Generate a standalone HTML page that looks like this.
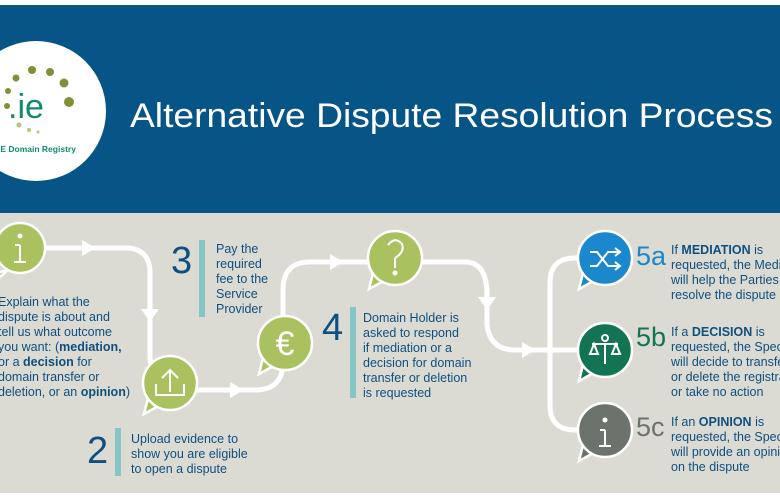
<!DOCTYPE html>
<html><head><meta charset="utf-8"><style>
html,body{margin:0;padding:0;width:780px;height:500px;overflow:hidden;background:#fff}
svg{display:block}
text{font-family:"Liberation Sans",sans-serif}
.t{font-size:12.5px;fill:#0f4f80}
.b{font-weight:bold}
.n{font-size:38px;fill:#0f4f80}
</style></head><body>
<svg width="780" height="500" viewBox="0 0 780 500">
<rect x="0" y="0" width="780" height="500" fill="#fff"/>
<rect x="0" y="5" width="780" height="208" fill="#075586"/>
<rect x="0" y="213" width="780" height="280" fill="#dcdbd3"/>
<!-- logo -->
<circle cx="36" cy="111" r="70" fill="#fff"/>
<g fill="#7e9138">
<circle cx="32" cy="70" r="4"/><circle cx="50" cy="72" r="4"/><circle cx="64" cy="83" r="4.5"/><circle cx="69" cy="102" r="5"/>
<circle cx="16" cy="78" r="3.5"/><circle cx="8" cy="91" r="3"/><circle cx="7" cy="106" r="3"/>
</g>
<g fill="#b8c47c"><circle cx="19" cy="125" r="2.5"/><circle cx="29" cy="130" r="2"/><circle cx="38" cy="132" r="1.5"/></g>
<text x="8" y="118" font-size="34" fill="#108b6e">.ie</text>
<text x="-2" y="152" font-size="8.5" font-weight="bold" fill="#108b6e">IE Domain Registry</text>
<text x="130" y="127" font-size="34" fill="#fff" textLength="643" lengthAdjust="spacingAndGlyphs">Alternative Dispute Resolution Process</text>
<!-- paths -->
<g fill="none" stroke="#fff" stroke-width="5">
<path d="M40 248 H125 Q150 248 150 273 V355 Q150 383 175 390 H255 Q283 390 283 362 V290 Q283 262 310 262 H465 Q485 262 487 290 V325 Q490 350 515 350 H550"/>
<path d="M605 258 H575 Q550 258 550 283 V405 Q550 430 575 430 H605"/>
<path d="M550 350 H600"/>
</g>
<g fill="#fff">
<polygon points="82,240 96,248 82,256"/>
<polygon points="141,309 159,309 150,322"/>
<polygon points="230,382 244,390 230,398"/>
<polygon points="330,254 344,262 330,270"/>
<polygon points="478,297 496,297 487,310"/>
<polygon points="522,342 536,350 522,358"/>
</g>
<!-- bubbles -->
<g stroke="#fff" stroke-width="2.5">
<g fill="#a9c15e">
<path d="M0 272 L-6 282 L8 270 Z"/><circle cx="20" cy="248" r="25"/>
<path d="M148 398 L144 414 L162 404 Z"/><circle cx="170" cy="383" r="27"/>
<path d="M263 358 L259 374 L277 364 Z"/><circle cx="285" cy="343" r="27"/>
<path d="M373 273 L369 289 L387 279 Z"/><circle cx="395" cy="258" r="27"/>
</g>
<path d="M583 273 L579 289 L597 279 Z" fill="#1b87cd"/><circle cx="605" cy="258" r="27" fill="#1b87cd"/>
<path d="M583 365 L579 381 L597 371 Z" fill="#137453"/><circle cx="605" cy="350" r="27" fill="#137453"/>
<path d="M583 445 L579 461 L597 451 Z" fill="#6c736d"/><circle cx="605" cy="430" r="27" fill="#6c736d"/>
</g>
<!-- icons -->
<g fill="none" stroke="#fff" stroke-width="2">
<path d="M20 245 V262 M14 262 H26 M15 245 H20"/><circle cx="20" cy="236" r="1.5" fill="#fff"/>
<path d="M170 392 V370 M162 378 L170 370 L178 378 M156 384 V395 H184 V384"/>
<path d="M395 258 V268 M388 245 Q395 236 402 244 Q405 252 395 258"/><circle cx="395" cy="273" r="1.5" fill="#fff"/>
<path d="M590 252 H597 L608 266 H619 M590 266 H597 L608 252 H619 M615 248 L620 252 L615 256 M615 262 L620 266 L615 270"/>
<path d="M605 430 V446 M599 446 H611 M600 430 H605"/><circle cx="605" cy="420" r="1.5" fill="#fff"/>
<path d="M592 344 H618 M605 344 V364 M594 344 L590 354 H598 Z M616 344 L612 354 H620 Z"/><circle cx="605" cy="338" r="3"/>
</g>
<text x="285" y="355" font-size="34" fill="#fff" text-anchor="middle">€</text>
<!-- bars -->
<g fill="#86c4c5">
<rect x="199" y="240" width="6" height="77"/>
<rect x="350" y="307" width="6" height="91"/>
<rect x="115" y="428" width="6" height="48"/>
</g>
<text class="n" x="171" y="273">3</text>
<text class="n" x="322" y="340">4</text>
<text class="n" x="87" y="463">2</text>
<text x="636" y="265" font-size="27" fill="#1b87cd">5a</text>
<text x="636" y="346" font-size="27" fill="#137453">5b</text>
<text x="636" y="436" font-size="27" fill="#6c736d">5c</text>
<g class="t">
<text x="-2" y="306">Explain what the</text>
<text x="-2" y="321">dispute is about and</text>
<text x="-2" y="336">tell us what outcome</text>
<text x="-2" y="351">you want: (<tspan class="b">mediation,</tspan></text>
<text x="-2" y="366">or a <tspan class="b">decision</tspan> for</text>
<text x="-2" y="381">domain transfer or</text>
<text x="-2" y="396">deletion, or an <tspan class="b">opinion</tspan>)</text>
<text x="216" y="253">Pay the</text>
<text x="216" y="268">required</text>
<text x="216" y="283">fee to the</text>
<text x="216" y="298">Service</text>
<text x="216" y="313">Provider</text>
<text x="363" y="322">Domain Holder is</text>
<text x="363" y="337">asked to respond</text>
<text x="363" y="352">if mediation or a</text>
<text x="363" y="367">decision for domain</text>
<text x="363" y="382">transfer or deletion</text>
<text x="363" y="397">is requested</text>
<text x="131" y="443">Upload evidence to</text>
<text x="131" y="458">show you are eligible</text>
<text x="131" y="473">to open a dispute</text>
<text x="671" y="254">If <tspan class="b">MEDIATION</tspan> is</text>
<text x="671" y="269">requested, the Mediator</text>
<text x="671" y="284">will help the Parties</text>
<text x="671" y="299">resolve the dispute</text>
<text x="671" y="336">If a <tspan class="b">DECISION</tspan> is</text>
<text x="671" y="351">requested, the Specialist</text>
<text x="671" y="366">will decide to transfer</text>
<text x="671" y="381">or delete the registration</text>
<text x="671" y="396">or take no action</text>
<text x="671" y="426">If an <tspan class="b">OPINION</tspan> is</text>
<text x="671" y="441">requested, the Specialist</text>
<text x="671" y="456">will provide an opinion</text>
<text x="671" y="471">on the dispute</text>
</g>
</svg>
</body></html>
